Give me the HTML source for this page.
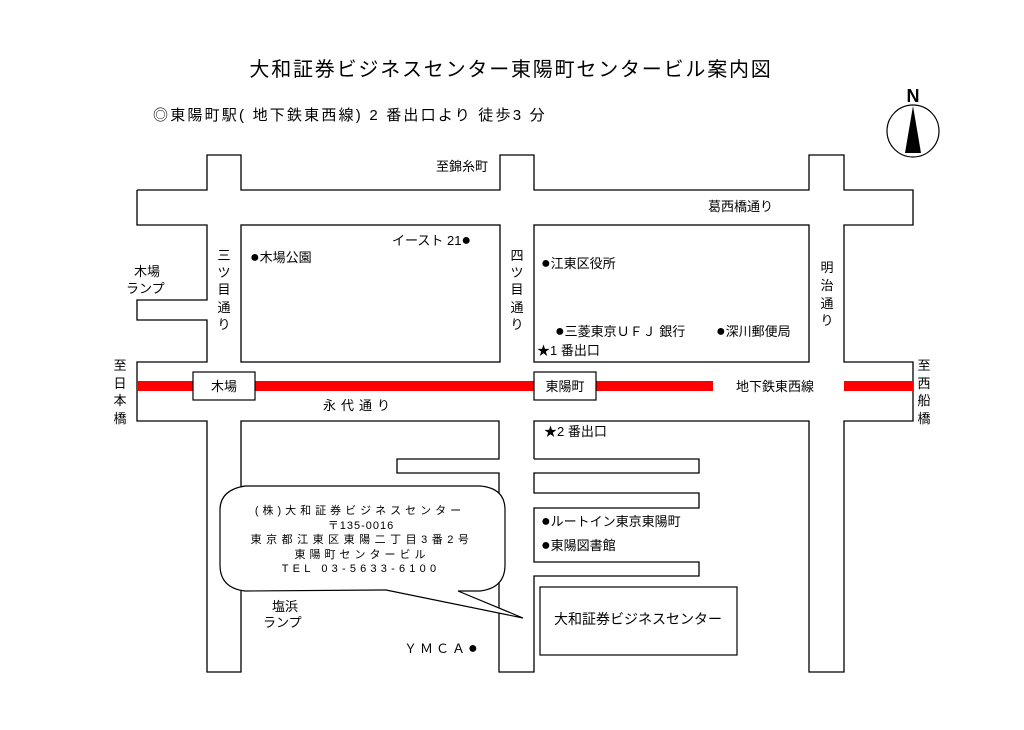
<!DOCTYPE html>
<html><head><meta charset="utf-8"><style>
html,body{margin:0;padding:0;background:#fff;}
svg text{font-family:"Liberation Sans","Noto Sans CJK JP",sans-serif;fill:#000;}
.b{font-size:16px;}
</style></head><body>
<svg width="1024" height="725" viewBox="0 0 1024 725" xmlns="http://www.w3.org/2000/svg">
<text x="511" y="76" font-size="20" text-anchor="middle" letter-spacing="1.8">大和証券ビジネスセンター東陽町センタービル案内図</text>
<text x="153" y="120" font-size="15" letter-spacing="2.2">◎東陽町駅( 地下鉄東西線) 2 番出口より 徒歩3 分</text>
<g stroke="#000" stroke-width="1.3" fill="none">
<polyline points="137,190 207,190 207,155 241,155 241,190 500,190 500,155 534,155 534,190 809,190 809,155 844,155 844,190 913,190 913,225 844,225 844,362 913,362 913,421 844,421 844,672 809,672 809,421 534,421 534,459"/>
<polyline points="137,190 137,225 207,225 207,300 137,300 137,320 207,320 207,362 137,362 137,421 207,421 207,672 241,672 241,421 499,421 499,459 397,459 397,473 499,473 499,672 534,672 534,576 699,576 699,562 534,562 534,508 699,508 699,493 534,493 534,473 699,473 699,459 534,459"/>
<rect x="241" y="225" width="259" height="137"/>
<rect x="534" y="225" width="275" height="137"/>
</g>
<rect x="137" y="381" width="56" height="10" fill="#f00"/>
<rect x="255" y="381" width="279" height="10" fill="#f00"/>
<rect x="596" y="381" width="117" height="10" fill="#f00"/>
<rect x="844" y="381" width="69" height="10" fill="#f00"/>
<rect x="193" y="372" width="62" height="28" fill="#fff" stroke="#000" stroke-width="1.2"/>
<rect x="534" y="372" width="62" height="28" fill="#fff" stroke="#000" stroke-width="1.2"/>
<text x="224" y="391" font-size="13" text-anchor="middle">木場</text>
<text x="565" y="391" font-size="13" text-anchor="middle">東陽町</text>
<rect x="540" y="587" width="197" height="68" fill="#fff" stroke="#000" stroke-width="1.2"/>
<text x="638" y="624" font-size="14" text-anchor="middle">大和証券ビジネスセンター</text>
<path d="M386,590 L523,618 L458,591 L480,591 Q505,588 505,565 L505,510 Q505,488 480,486 L245,486 Q220,490 220,510 L220,565 Q220,588 245,591 Z" fill="#fff" stroke="#000" stroke-width="1.2"/>
<g font-size="11" text-anchor="middle">
<text x="360" y="514" letter-spacing="4">(株)大和証券ビジネスセンター</text>
<text x="361" y="529" font-family="Liberation Serif,serif" letter-spacing="1">〒135-0016</text>
<text x="362" y="543" letter-spacing="4.5">東京都江東区東陽二丁目3番2号</text>
<text x="362" y="558" letter-spacing="4">東陽町センタービル</text>
<text x="361" y="572" letter-spacing="4.2">TEL 03-5633-6100</text>
</g>
<g font-size="13">
<text x="436" y="171">至錦糸町</text>
<text x="708" y="211">葛西橋通り</text>
<text x="392" y="245">イースト 21<tspan class="b">●</tspan></text>
<text x="250" y="262"><tspan class="b">●</tspan>木場公園</text>
<text x="541" y="268"><tspan class="b">●</tspan>江東区役所</text>
<text x="555" y="336"><tspan class="b">●</tspan>三菱東京ＵＦＪ 銀行</text>
<text x="716" y="336"><tspan class="b">●</tspan>深川郵便局</text>
<text x="537" y="355">★1 番出口</text>
<text x="544" y="436">★2 番出口</text>
<text x="323" y="410" letter-spacing="5">永代通り</text>
<text x="736" y="391">地下鉄東西線</text>
<text x="134" y="276">木場</text>
<text x="126" y="293">ランプ</text>
<text x="272" y="611">塩浜</text>
<text x="263" y="627">ランプ</text>
<text x="541" y="526"><tspan class="b">●</tspan>ルートイン東京東陽町</text>
<text x="541" y="550"><tspan class="b">●</tspan>東陽図書館</text>
<text x="404" y="653" letter-spacing="3">ＹＭＣＡ<tspan class="b">●</tspan></text>
</g>
<g font-size="13" text-anchor="middle">
<text x="224" y="260">三</text><text x="224" y="277">ツ</text><text x="224" y="294">目</text><text x="224" y="312">通</text><text x="224" y="329">り</text>
<text x="517" y="260">四</text><text x="517" y="277">ツ</text><text x="517" y="294">目</text><text x="517" y="312">通</text><text x="517" y="329">り</text>
<text x="827" y="272">明</text><text x="827" y="290">治</text><text x="827" y="308">通</text><text x="827" y="325">り</text>
<text x="120" y="370">至</text><text x="120" y="388">日</text><text x="120" y="405">本</text><text x="120" y="423">橋</text>
<text x="924" y="370">至</text><text x="924" y="388">西</text><text x="924" y="405">船</text><text x="924" y="423">橋</text>
</g>
<circle cx="913" cy="131" r="26" fill="#fff" stroke="#000" stroke-width="1.2"/>
<polygon points="913,106 905,153 921,153" fill="#000"/>
<text x="913" y="102" font-size="18" font-weight="bold" text-anchor="middle">N</text>
</svg>
</body></html>
